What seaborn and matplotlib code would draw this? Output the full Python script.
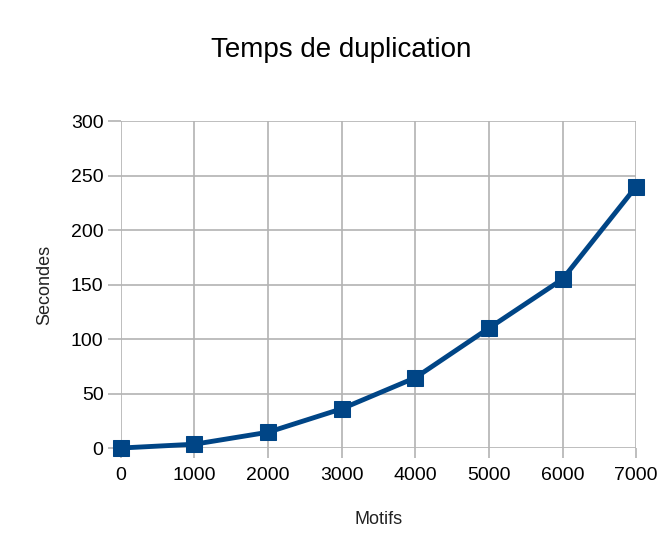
import numpy as np
import pandas as pd
import matplotlib
matplotlib.use('Agg')
import matplotlib.pyplot as plt
import seaborn as sns

# data
motifs = [0, 1000, 2000, 3000, 4000, 5000, 6000, 7000]
secondes = [0, 3.5, 14.5, 36, 64.5, 110, 155, 240]

df = pd.DataFrame({'Motifs': motifs, 'Secondes': secondes})

sns.set_style("whitegrid")
plt.rcParams['font.family'] = ['Liberation Sans', 'DejaVu Sans']
plt.rcParams['text.color'] = 'black'
plt.rcParams['axes.labelcolor'] = 'black'
plt.rcParams['xtick.labelcolor'] = 'black'
plt.rcParams['ytick.labelcolor'] = 'black'

fig = plt.figure(figsize=(6.64, 5.34), dpi=100)
ax = fig.add_axes([0.182, 0.161, 0.776, 0.612])

sns.lineplot(
    data=df,
    x='Motifs',
    y='Secondes',
    color='#004586',
    linewidth=3.5,
    marker='s',
    markersize=11.5,
    markeredgecolor='#004586',
    ax=ax
)

ax.set_xlim(0, 7000)
ax.set_ylim(0, 300)
ax.set_xticks(np.arange(0, 7001, 1000))
ax.set_yticks(np.arange(0, 301, 50))
ax.grid(True, color='#b3b3b3', linewidth=1.2)
for s in ax.spines.values():
    s.set_visible(False)
ax.tick_params(axis='both', width=1.2, color='#b3b3b3',
               labelsize=14, labelcolor='black', direction='out')
ax.tick_params(axis='x', bottom=True, length=7, pad=7)
ax.tick_params(axis='y', left=True, length=9.5, pad=3)
for m in ax.lines:
    m.set_clip_on(False)

ax.set_xlabel('Motifs', fontsize=13, labelpad=19, color='#222222')
ax.set_ylabel('Secondes', fontsize=13, labelpad=13, color='#222222')
fig.text(0.514, 0.906, 'Temps de duplication', fontsize=20,
         ha='center', va='center', color='black')

fig.savefig('out.png', dpi=100)
